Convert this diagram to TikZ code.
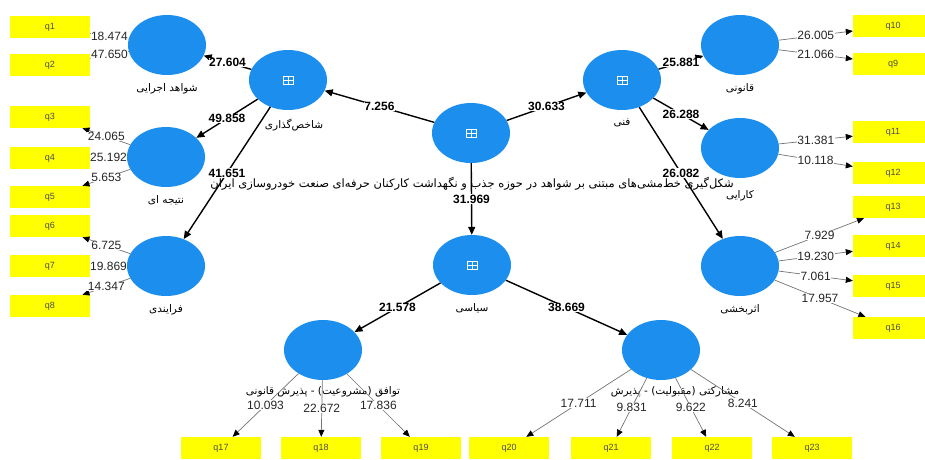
\documentclass[tikz,border=0pt]{standalone}
\usepackage{fontspec}
\setmainfont{Liberation Sans}
\newfontfamily\arfont[Script=Arabic]{DejaVu Sans}
\usetikzlibrary{shapes.geometric,arrows.meta}
\TeXXeTstate=1
\definecolor{lvblue}{RGB}{28,142,238}
\definecolor{qyellow}{RGB}{255,255,0}
\tikzset{
    	every node/.append style={font=\fontsize{12}{13}\selectfont}}

\begin{document}
\begin{tikzpicture}
  [x=1pt,y=-1pt,
   lv/.style={ellipse,fill=lvblue,minimum width=78pt,minimum height=60pt,inner sep=0pt},
   hoc/.style={lv,path picture={
     \draw[white,line width=.6pt] ([xshift=-5pt,yshift=-4pt]path picture bounding box.center) rectangle ([xshift=5pt,yshift=4pt]path picture bounding box.center);
     \draw[white,line width=.6pt] ([xshift=-5pt]path picture bounding box.center) -- ([xshift=5pt]path picture bounding box.center);
     \draw[white,line width=.6pt] ([yshift=-4pt]path picture bounding box.center) -- ([yshift=4pt]path picture bounding box.center);}},
   ind/.style={rectangle,fill=qyellow,minimum width=80pt,minimum height=22pt,inner sep=0pt,text=black!70,font=\fontsize{9}{10}\selectfont},
   lname/.style={font=\arfont\fontsize{10.5}{11}\selectfont,label distance=5pt},
   strc/.style={line width=1.4pt,-{Triangle[length=8pt,width=7pt]}},
   load/.style={draw=black!55,line width=.7pt,-{Triangle[length=7pt,width=6pt,fill=black,color=black]}},
   sval/.style={fill=white,inner sep=.5pt,font=\bfseries\fontsize{12}{13}\selectfont},
   lval/.style={fill=white,inner sep=.5pt,text=black!85}]
  \useasboundingbox (0,0) rectangle (925,459);

  \node [font=\arfont\fontsize{11.5}{12}\selectfont] (title) at (472,184) {\beginR شکل‌گیری خط‌مشی‌های مبتنی بر شواهد در حوزه جذب و نگهداشت کارکنان حرفه‌ای صنعت خودروسازی ایران\endR};

  \node [hoc] (h0) at (471,133) {};
  \node [hoc,label={[lname,xshift=6pt]below:{\beginR شاخص‌گذاری\endR}}] (h1) at (288,80) {};
  \node [hoc,label={[lname]below:{\beginR فنی\endR}}] (h2) at (622,80) {};
  \node [hoc,label={[lname]below:{\beginR سیاسی\endR}}] (h3) at (472,265) {};

  \node [lv,label={[lname]below:{\beginR شواهد اجرایی\endR}}] (l1) at (167,45) {};
  \node [lv,label={[lname]below:{\beginR نتیجه ای\endR}}] (l2) at (166,157) {};
  \node [lv,label={[lname]below:{\beginR فرایندی\endR}}] (l3) at (166,266) {};
  \node [lv,label={[lname]below:{\beginR قانونی\endR}}] (l4) at (740,45) {};
  \node [lv,label={[lname,label distance=9pt]below:{\beginR کارایی\endR}}] (l5) at (740,148) {};
  \node [lv,label={[lname]below:{\beginR اثربخشی\endR}}] (l6) at (740,266) {};
  \node [lv,label={[lname,label distance=3pt]below:{\beginR توافق (مشروعیت) - پذیرش قانونی\endR}}] (l7) at (323,350) {};
  \node [lv,label={[lname,label distance=3pt,xshift=14pt]below:{\beginR مشارکتی (مقبولیت) - پذیرش\endR}}] (l8) at (661,350) {};

  \foreach \n/\y in {1/27,2/65,3/117,4/158,5/197,6/226,7/266,8/306}
    \node [ind] (q\n) at (50,\y) {q\n};
  \foreach \n/\y in {10/26,9/64,11/132,12/173,13/207,14/246,15/286,16/328}
    \node [ind] (q\n) at (893,\y) {q\n};
  \foreach \n/\x in {17/221,18/321,19/421,20/509,21/611,22/712,23/812}
    \node [ind] (q\n) at (\x,448) {q\n};

  \foreach \from/\to/\val in {h0/h1/7.256,h0/h2/30.633,h0/h3/31.969,h1/l1/27.604,h1/l2/49.858,h1/l3/41.651,h2/l4/25.881,h2/l5/26.288,h2/l6/26.082,h3/l7/21.578,h3/l8/38.669}
    \draw[strc] (\from) -- node[sval] {\val} (\to);

  \foreach \from/\to/\val in {l1/q1/18.474,l1/q2/47.650,l2/q3/24.065,l2/q4/25.192,l2/q5/5.653,l3/q6/6.725,l3/q7/19.869,l3/q8/14.347,l4/q10/26.005,l4/q9/21.066,l5/q11/31.381,l5/q12/10.118,l6/q13/7.929,l6/q14/19.230,l6/q15/7.061,l6/q16/17.957,l7/q17/10.093,l7/q18/22.672,l7/q19/17.836,l8/q20/17.711,l8/q21/9.831,l8/q22/9.622,l8/q23/8.241}
    \draw[load] (\from) -- node[lval] {\val} (\to);
\end{tikzpicture}
\end{document}
